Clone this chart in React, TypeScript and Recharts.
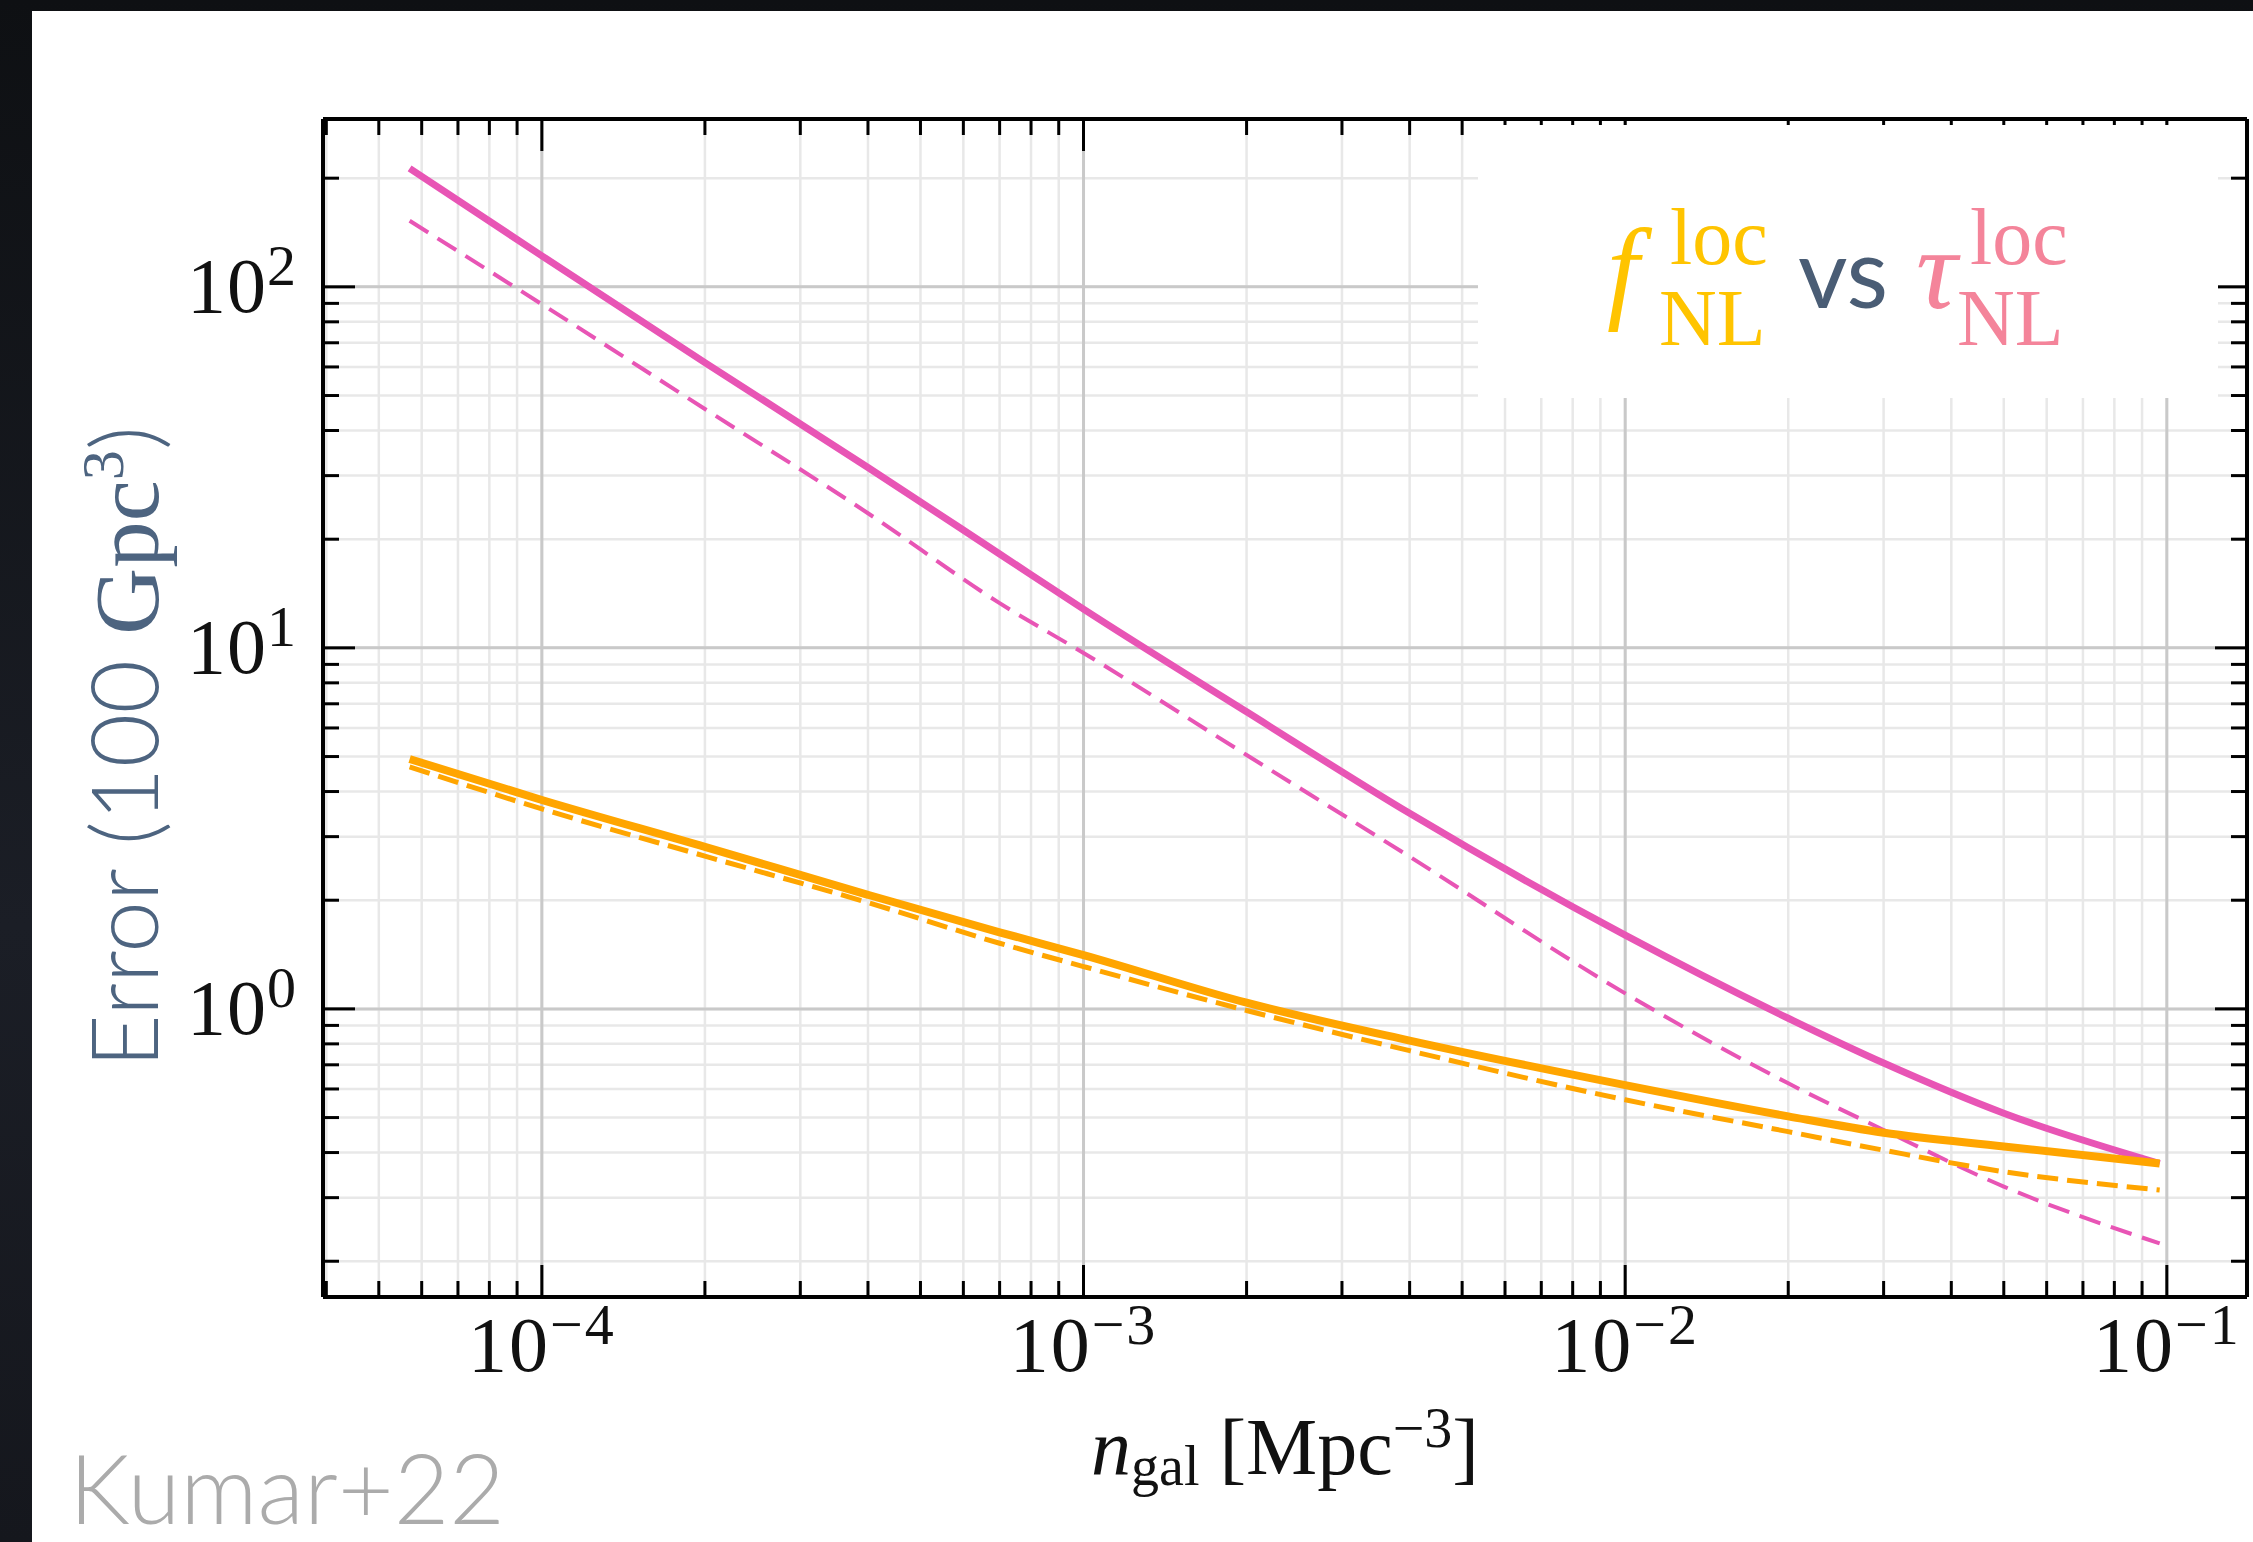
import { LineChart, Line, XAxis, YAxis, CartesianGrid, ReferenceLine } from "recharts";

const W = 2253;
const H = 1542;

// galaxy number density [Mpc^-3]
const nGal = [5.7e-5, 1e-4, 2e-4, 4e-4, 7e-4, 1e-3, 2e-3, 4e-3, 1e-2, 2e-2, 3e-2, 5e-2, 9.7e-2];
// error on tau_NL (solid / dashed) and f_NL (solid / dashed)
const tauFull = [212.8, 121.9, 61.7, 31.6, 18.2, 12.8, 6.65, 3.48, 1.6, 0.942, 0.708, 0.514, 0.373];
const tauDash = [152.4, 89.5, 45.9, 23.6, 13.3, 9.68, 5.05, 2.64, 1.104, 0.622, 0.462, 0.322, 0.224];
const fFull = [4.92, 3.79, 2.81, 2.07, 1.63, 1.41, 1.04, 0.817, 0.615, 0.504, 0.454, 0.416, 0.373];
const fDash = [4.68, 3.58, 2.65, 1.97, 1.52, 1.31, 0.99, 0.766, 0.56, 0.457, 0.406, 0.354, 0.315];

const xMajor = [1e-4, 1e-3, 1e-2, 1e-1];
const xExp = ["\u22124", "\u22123", "\u22122", "\u22121"];
const xMinor = [
  4e-5, 5e-5, 6e-5, 7e-5, 8e-5, 9e-5,
  2e-4, 3e-4, 4e-4, 5e-4, 6e-4, 7e-4, 8e-4, 9e-4,
  2e-3, 3e-3, 4e-3, 5e-3, 6e-3, 7e-3, 8e-3, 9e-3,
  2e-2, 3e-2, 4e-2, 5e-2, 6e-2, 7e-2, 8e-2, 9e-2,
];
const yMajor = [1, 10, 100];
const yExp = ["0", "1", "2"];
const yMinor = [
  0.2, 0.3, 0.4, 0.5, 0.6, 0.7, 0.8, 0.9,
  2, 3, 4, 5, 6, 7, 8, 9,
  20, 30, 40, 50, 60, 70, 80, 90,
  200,
];

const xDomain = [3.944e-5, 0.1406];
const yDomain = [0.1592, 291.7];

const PINK = "#E855B5";
const ORANGE = "#FFA500";
const SERIF = "'Liberation Serif', 'Times New Roman', serif";
const SANS = "Lato, 'Open Sans', sans-serif";

const data = nGal.map((n, i) => ({
  n,
  tauFull: tauFull[i],
  tauDash: tauDash[i],
  fFull: fFull[i],
  fDash: fDash[i],
}));

const xTicks = [...xMajor, ...xMinor].sort((a, b) => a - b);
const yTicks = [...yMajor, ...yMinor].sort((a, b) => a - b);

function majorIndex(list: number[], v: number) {
  return list.findIndex((m) => Math.abs(Math.log10(m) - Math.log10(v)) < 1e-6);
}

const XTick = (props: any) => {
  const { x, y, payload, side } = props;
  const i = majorIndex(xMajor, payload.value);
  const len = i >= 0 ? 32 : 16;
  if (side === "top") {
    return <line x1={x} y1={y} x2={x} y2={y + len} stroke="#000" strokeWidth={3} />;
  }
  return (
    <g>
      <line x1={x} y1={y} x2={x} y2={y - len} stroke="#000" strokeWidth={3} />
      {i >= 0 && (
        <text x={x} y={y + 74} textAnchor="middle" fontFamily={SERIF} fontSize={78} letterSpacing={2} fill="#111">
          10
          <tspan dy={-27} fontSize={58}>{xExp[i]}</tspan>
        </text>
      )}
    </g>
  );
};

const YTick = (props: any) => {
  const { x, y, payload, side } = props;
  const i = majorIndex(yMajor, payload.value);
  const len = i >= 0 ? 32 : 16;
  if (side === "right") {
    return <line x1={x} y1={y} x2={x - len} y2={y} stroke="#000" strokeWidth={3} />;
  }
  return (
    <g>
      <line x1={x} y1={y} x2={x + len} y2={y} stroke="#000" strokeWidth={3} />
      {i >= 0 && (
        <text x={x - 26} y={y + 25} textAnchor="end" fontFamily={SERIF} fontSize={78} letterSpacing={1} fill="#111">
          10
          <tspan dy={-27} fontSize={58}>{yExp[i]}</tspan>
        </text>
      )}
    </g>
  );
};

const axisLine = { stroke: "#000", strokeWidth: 4 };

export default function App() {
  return (
    <div
      style={{
        position: "absolute",
        left: 0,
        top: 0,
        width: W,
        height: H,
        overflow: "hidden",
        background: "linear-gradient(to bottom, #0e1013, #1b1e26 60%, #15171d)",
      }}
    >
      <div style={{ position: "absolute", left: 32, top: 11, right: 0, bottom: 0, background: "#fff" }} />
      <div style={{ position: "absolute", left: 0, top: 0 }}>
        <LineChart width={W} height={H} data={data} margin={{ top: 118, left: 322, right: 5, bottom: 244 }}>
          <CartesianGrid stroke="#e8e8e8" strokeWidth={2.5} />
          {xMajor.map((v) => (
            <ReferenceLine key={`gx${v}`} x={v} stroke="#c9c9c9" strokeWidth={3} />
          ))}
          {yMajor.map((v) => (
            <ReferenceLine key={`gy${v}`} y={v} stroke="#c9c9c9" strokeWidth={3} />
          ))}
          <XAxis
            dataKey="n"
            type="number"
            scale="log"
            domain={xDomain}
            allowDataOverflow
            ticks={xTicks}
            interval={0}
            height={1}
            tickSize={0}
            tickMargin={0}
            tickLine={false}
            axisLine={axisLine}
            tick={(p: any) => <XTick {...p} side="bottom" />}
          />
          <XAxis
            xAxisId="top"
            orientation="top"
            dataKey="n"
            type="number"
            scale="log"
            domain={xDomain}
            allowDataOverflow
            ticks={xTicks}
            interval={0}
            height={1}
            tickSize={0}
            tickMargin={0}
            tickLine={false}
            axisLine={axisLine}
            tick={(p: any) => <XTick {...p} side="top" />}
          />
          <YAxis
            type="number"
            scale="log"
            domain={yDomain}
            allowDataOverflow
            ticks={yTicks}
            interval={0}
            width={1}
            tickSize={0}
            tickMargin={0}
            tickLine={false}
            axisLine={axisLine}
            tick={(p: any) => <YTick {...p} side="left" />}
          />
          <YAxis
            yAxisId="right"
            orientation="right"
            type="number"
            scale="log"
            domain={yDomain}
            allowDataOverflow
            ticks={yTicks}
            interval={0}
            width={1}
            tickSize={0}
            tickMargin={0}
            tickLine={false}
            axisLine={axisLine}
            tick={(p: any) => <YTick {...p} side="right" />}
          />
          <Line dataKey="tauDash" type="monotone" stroke={PINK} strokeWidth={4} strokeDasharray="22 11" dot={false} activeDot={false} isAnimationActive={false} />
          <Line dataKey="fDash" type="monotone" stroke={ORANGE} strokeWidth={5} strokeDasharray="21 9" dot={false} activeDot={false} isAnimationActive={false} />
          <Line dataKey="tauFull" type="monotone" stroke={PINK} strokeWidth={7} dot={false} activeDot={false} isAnimationActive={false} />
          <Line dataKey="fFull" type="monotone" stroke={ORANGE} strokeWidth={8} dot={false} activeDot={false} isAnimationActive={false} />
        </LineChart>
      </div>
      <svg width={W} height={H} style={{ position: "absolute", left: 0, top: 0, pointerEvents: "none" }}>
        {/* legend box */}
        <rect x={1478} y={125} width={740} height={273} fill="#fff" />
        <text x={1607} y={308} fontFamily={SERIF} fontStyle="italic" fontSize={115} fill="#FFC400">f</text>
        <text x={1670} y={264} fontFamily={SERIF} fontSize={80} fill="#FFC400">loc</text>
        <text x={1659} y={345} fontFamily={SERIF} fontSize={80} fill="#FFC400">NL</text>
        <text x={1798} y={308} fontFamily={SANS} fontSize={96} fill="#4A5D75">vs</text>
        <text x={1916} y={308} fontFamily={SERIF} fontStyle="italic" fontSize={115} fill="#F4849A">τ</text>
        <text x={1970} y={264} fontFamily={SERIF} fontSize={80} fill="#F4849A">loc</text>
        <text x={1957} y={345} fontFamily={SERIF} fontSize={80} fill="#F4849A">NL</text>

        {/* x axis label */}
        <text x={1285} y={1474} textAnchor="middle" fontFamily={SERIF} fontSize={80} fill="#111">
          <tspan fontStyle="italic">n</tspan>
          <tspan fontSize={56} dy={11}>gal</tspan>
          <tspan dy={-11}> [Mpc</tspan>
          <tspan fontSize={56} dy={-27}>{"\u22123"}</tspan>
          <tspan dy={27}>]</tspan>
        </text>

        {/* y axis label */}
        <text
          x={158}
          y={747}
          textAnchor="middle"
          transform="rotate(-90 158 747)"
          fill="#4D6480"
          fontSize={92}
          textLength={642}
          lengthAdjust="spacingAndGlyphs"
        >
          <tspan fontFamily={SANS} fontWeight={300}>Error (100 </tspan>
          <tspan fontFamily={SERIF}>Gpc</tspan>
          <tspan fontFamily={SERIF} fontSize={60} dy={-35}>3</tspan>
          <tspan fontFamily={SANS} fontWeight={300} dy={35}>)</tspan>
        </text>

        <text x={69} y={1524} fontFamily={SANS} fontWeight={300} fontSize={96} fill="#ABABAB">Kumar+22</text>
      </svg>
    </div>
  );
}
